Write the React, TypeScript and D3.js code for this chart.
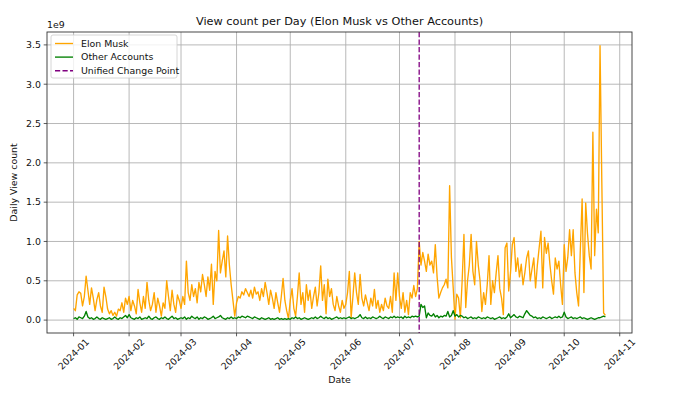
import React from "react";
import * as d3 from "d3";

// Daily view counts, in units of 1e9, starting 2024-01-01 (one value per day)
const START_DATE = "2024-01-01";
const CHANGE_POINT = "2024-07-12";
const UNIT_LABEL = "1e9";

const ELON_MUSK: number[] = [
  // Jan
  0.15,0.12,0.32,0.36,0.34,0.18,0.30,0.56,0.38,0.20,0.41,0.28,0.12,0.26,0.35,0.18,0.10,0.42,0.30,0.14,0.08,0.12,0.06,0.10,0.05,0.14,0.12,0.22,0.10,0.28,0.20,
  // Feb
  0.30,0.12,0.25,0.18,0.08,0.39,0.22,0.10,0.30,0.15,0.48,0.25,0.12,0.20,0.35,0.10,0.28,0.18,0.05,0.22,0.15,0.50,0.30,0.12,0.38,0.20,0.10,0.32,0.25,
  // Mar
  0.15,0.30,0.20,0.75,0.35,0.25,0.45,0.30,0.40,0.22,0.48,0.36,0.58,0.45,0.30,0.55,0.38,0.71,0.20,0.62,0.50,1.14,0.60,0.75,0.88,0.55,1.07,0.70,0.45,0.25,0.05,
  // Apr
  0.22,0.30,0.28,0.36,0.32,0.40,0.35,0.30,0.38,0.28,0.42,0.33,0.36,0.25,0.40,0.30,0.48,0.35,0.20,0.38,0.28,0.15,0.35,0.22,0.10,0.30,0.53,0.25,0.12,0.02,
  // May
  0.25,0.40,0.15,0.05,0.30,0.60,0.20,0.35,0.10,0.45,0.25,0.38,0.15,0.30,0.42,0.18,0.35,0.69,0.25,0.45,0.08,0.52,0.30,0.40,0.20,0.12,0.30,0.18,0.10,0.25,0.15,
  // Jun
  0.20,0.35,0.62,0.03,0.30,0.60,0.35,0.20,0.58,0.28,0.18,0.32,0.22,0.12,0.28,0.18,0.39,0.15,0.25,0.10,0.20,0.12,0.28,0.18,0.15,0.30,0.10,0.60,0.25,0.60,
  // Jul
  0.30,0.15,0.35,0.10,0.25,0.07,0.35,0.28,0.44,0.30,0.40,1.00,0.70,0.86,0.75,0.62,0.84,0.70,0.75,0.60,0.96,0.55,0.28,0.35,0.41,0.45,0.52,0.41,1.71,0.80,0.41,
  // Aug
  0.01,0.33,0.28,0.03,0.50,1.09,0.16,0.50,0.70,1.09,0.62,0.45,1.00,0.70,0.50,0.11,0.35,0.20,0.45,0.82,0.20,0.50,0.35,0.60,0.82,0.40,0.28,0.07,0.92,0.98,0.37,
  // Sep
  0.60,0.96,1.05,0.62,0.79,0.55,0.71,0.45,0.60,0.79,0.88,0.50,0.65,0.79,0.41,0.70,0.92,1.13,0.41,1.05,0.85,0.98,0.71,0.50,0.33,0.79,0.65,0.75,0.45,0.20,
  // Oct
  0.96,0.62,0.80,1.15,0.82,1.15,0.60,0.35,0.18,0.90,1.54,0.35,1.49,1.10,0.82,0.65,2.39,0.82,1.41,1.11,3.49,1.75,0.09,0.06,
];

const OTHER_ACCOUNTS: number[] = [
  // Jan
  0.02,0.03,0.01,0.04,0.03,0.02,0.05,0.11,0.04,0.02,0.03,0.01,0.02,0.04,0.02,0.01,0.03,0.02,0.01,0.02,0.03,0.01,0.02,0.04,0.02,0.01,0.03,0.02,0.04,0.06,0.03,
  // Feb
  0.07,0.03,0.02,0.01,0.03,0.02,0.04,0.01,0.02,0.03,0.02,0.05,0.02,0.01,0.03,0.04,0.02,0.01,0.03,0.02,0.04,0.02,0.01,0.03,0.05,0.02,0.03,0.01,0.02,
  // Mar
  0.03,0.02,0.04,0.01,0.03,0.02,0.05,0.03,0.02,0.04,0.01,0.03,0.02,0.04,0.03,0.01,0.02,0.03,0.05,0.02,0.03,0.04,0.06,0.03,0.02,0.01,0.03,0.02,0.04,0.02,0.03,
  // Apr
  0.02,0.04,0.03,0.05,0.04,0.03,0.05,0.04,0.03,0.02,0.04,0.03,0.02,0.01,0.03,0.02,0.01,0.02,0.03,0.01,0.02,0.01,0.02,0.03,0.01,0.02,0.01,0.02,0.01,0.02,
  // May
  0.01,0.03,0.02,0.04,0.02,0.03,0.01,0.02,0.03,0.02,0.01,0.02,0.03,0.02,0.04,0.02,0.03,0.05,0.03,0.02,0.04,0.02,0.03,0.01,0.02,0.03,0.04,0.02,0.03,0.02,0.03,
  // Jun
  0.02,0.03,0.04,0.02,0.03,0.02,0.03,0.04,0.07,0.03,0.02,0.04,0.02,0.03,0.02,0.04,0.03,0.02,0.03,0.05,0.03,0.02,0.04,0.03,0.02,0.04,0.03,0.05,0.03,0.04,
  // Jul
  0.03,0.04,0.02,0.05,0.03,0.04,0.03,0.05,0.04,0.05,0.04,0.05,0.20,0.16,0.18,0.03,0.09,0.06,0.05,0.08,0.04,0.06,0.03,0.05,0.04,0.06,0.05,0.11,0.04,0.06,0.12,
  // Aug
  0.05,0.07,0.04,0.06,0.05,0.03,0.04,0.02,0.03,0.04,0.02,0.03,0.02,0.04,0.03,0.02,0.03,0.02,0.04,0.03,0.02,0.03,0.01,0.02,0.03,0.04,0.02,0.03,0.02,0.04,0.08,
  // Sep
  0.03,0.05,0.07,0.04,0.03,0.05,0.04,0.03,0.08,0.12,0.09,0.06,0.05,0.03,0.04,0.02,0.03,0.02,0.04,0.03,0.02,0.03,0.04,0.02,0.03,0.04,0.03,0.05,0.03,0.04,
  // Oct
  0.10,0.04,0.02,0.03,0.04,0.02,0.03,0.02,0.03,0.04,0.02,0.03,0.02,0.01,0.02,0.03,0.02,0.01,0.02,0.03,0.03,0.04,0.05,0.04,
];

const Y_TICKS = [0, 0.5, 1.0, 1.5, 2.0, 2.5, 3.0, 3.5];
const X_TICK_MONTHS = [
  "2024-01","2024-02","2024-03","2024-04","2024-05","2024-06",
  "2024-07","2024-08","2024-09","2024-10","2024-11",
];

const TITLE = "View count per Day (Elon Musk vs Other Accounts)";
const SERIES_NAMES = ["Elon Musk", "Other Accounts", "Unified Change Point"];

const W = 680;
const H = 395;
const M = { left: 47, right: 632, top: 32, bottom: 333 };
const FONT = "DejaVu Sans, sans-serif";

function parseDay(s: string) {
  const [y, m, d] = s.split("-").map(Number);
  return new Date(Date.UTC(y, m - 1, d || 1));
}

export default function App() {
  const start = parseDay(START_DATE);
  const dates = ELON_MUSK.map((_, i) => d3.utcDay.offset(start, i));
  const first = dates[0];
  const last = dates[dates.length - 1];
  const span = last.getTime() - first.getTime();
  const x = d3
    .scaleUtc()
    .domain([new Date(first.getTime() - span * 0.05), new Date(last.getTime() + span * 0.05)])
    .range([M.left, M.right]);

  const all = [...ELON_MUSK, ...OTHER_ACCOUNTS];
  const yMin = d3.min(all)!;
  const yMax = d3.max(all)!;
  const yPad = (yMax - yMin) * 0.05;
  const y = d3.scaleLinear().domain([yMin - yPad, yMax + yPad]).range([M.bottom, M.top]);

  const line = d3
    .line<number>()
    .x((_, i) => x(dates[i]))
    .y((v) => y(v));

  const cp = x(parseDay(CHANGE_POINT));
  const xTicks = X_TICK_MONTHS.map(parseDay);
  const cx = (M.left + M.right) / 2;

  return (
    <div style={{ position: "fixed", left: 0, top: 0, width: W, height: H, background: "#fff" }}>
      <svg width={W} height={H} style={{ display: "block" }} fontFamily={FONT}>
        <rect x={0} y={0} width={W} height={H} fill="#fff" />
        <defs>
          <clipPath id="plotclip">
            <rect x={M.left} y={M.top} width={M.right - M.left} height={M.bottom - M.top} />
          </clipPath>
        </defs>
        {/* grid */}
        {xTicks.map((t, i) => (
          <line key={"gx" + i} x1={x(t)} x2={x(t)} y1={M.top} y2={M.bottom} stroke="#b0b0b0" strokeWidth={0.9} />
        ))}
        {Y_TICKS.map((t, i) => (
          <line key={"gy" + i} x1={M.left} x2={M.right} y1={y(t)} y2={y(t)} stroke="#b0b0b0" strokeWidth={0.9} />
        ))}
        {/* lines */}
        <g clipPath="url(#plotclip)">
          <path d={line(ELON_MUSK)!} fill="none" stroke="#FFA500" strokeWidth={1.35} strokeLinejoin="round" />
          <path d={line(OTHER_ACCOUNTS)!} fill="none" stroke="#008000" strokeWidth={1.35} strokeLinejoin="round" />
          <line x1={cp} x2={cp} y1={M.top} y2={M.bottom} stroke="#800080" strokeWidth={1.3} strokeDasharray="5.2,2.3" />
        </g>
        {/* frame */}
        <rect x={M.left} y={M.top} width={M.right - M.left} height={M.bottom - M.top} fill="none" stroke="#333" strokeWidth={0.9} />
        {/* y ticks */}
        {Y_TICKS.map((t, i) => (
          <g key={"yt" + i}>
            <line x1={M.left - 3.3} x2={M.left} y1={y(t)} y2={y(t)} stroke="#333" strokeWidth={0.8} />
            <text x={M.left - 6} y={y(t)} dy="0.35em" textAnchor="end" fontSize={9.4} fill="#111">
              {t.toFixed(1)}
            </text>
          </g>
        ))}
        <text x={M.left} y={28} fontSize={9.4} fill="#111">{UNIT_LABEL}</text>
        {/* x ticks */}
        {xTicks.map((t, i) => (
          <g key={"xt" + i}>
            <line x1={x(t)} x2={x(t)} y1={M.bottom} y2={M.bottom + 3.3} stroke="#333" strokeWidth={0.8} />
            <text
              transform={`translate(${x(t)},${M.bottom + 21}) rotate(-45)`}
              textAnchor="middle"
              dy="0.35em"
              fontSize={9.4}
              fill="#111"
            >
              {d3.utcFormat("%Y-%m")(t)}
            </text>
          </g>
        ))}
        {/* labels */}
        <text x={cx} y={383} textAnchor="middle" fontSize={9.4} fill="#111">Date</text>
        <text transform={`translate(17,${(M.top + M.bottom) / 2}) rotate(-90)`} textAnchor="middle" fontSize={9.4} fill="#111">
          Daily View count
        </text>
        <text x={cx} y={25} textAnchor="middle" fontSize={11.3} fill="#111">{TITLE}</text>
        {/* legend */}
        <g>
          <rect x={51} y={35} width={126} height={43} rx={2} fill="#fff" fillOpacity={0.8} stroke="#ccc" strokeWidth={0.8} />
          {SERIES_NAMES.map((name, i) => {
            const yy = 43.5 + i * 13.6;
            const color = ["#FFA500", "#008000", "#800080"][i];
            return (
              <g key={"lg" + i}>
                <line x1={55} x2={73} y1={yy} y2={yy} stroke={color} strokeWidth={1.35} strokeDasharray={i === 2 ? "5.2,2.3" : undefined} />
                <text x={81} y={yy} dy="0.35em" fontSize={9.4} fill="#111">{name}</text>
              </g>
            );
          })}
        </g>
      </svg>
    </div>
  );
}
